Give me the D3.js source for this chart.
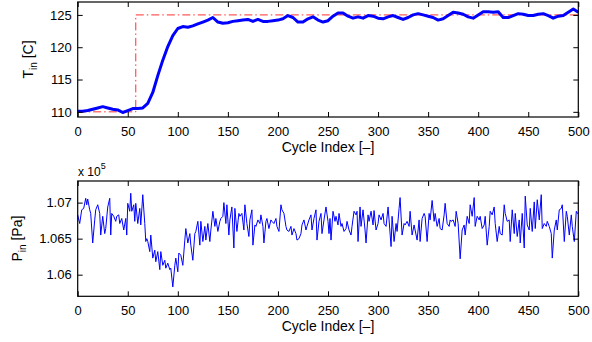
<!DOCTYPE html>
<html>
<head>
<meta charset="utf-8">
<script src="https://cdn.jsdelivr.net/npm/d3@7/dist/d3.min.js"></script>
<style>
  body { margin: 0; background: #fff; }
  text { font-family: "Liberation Sans", Arial, Helvetica, sans-serif; fill: #000; }
</style>
</head>
<body>
<div id="chart"></div>
<script>
// inlet temperature, read every 5 cycles
var tCycle = d3.range(0, 501, 5);
var tVal = [
  110.1, 110.1, 110.2, 110.4, 110.6, 110.8, 110.6, 110.4, 110.3, 109.9,
  110.2, 110.5, 110.5, 110.6, 111.3, 113.0, 115.6, 118.0, 120.1, 121.8,
  122.9, 123.2, 123.1, 123.3, 123.6, 123.9, 124.2, 124.6, 123.9, 123.7,
  123.8, 124.0, 124.1, 124.2, 124.3, 124.0, 124.3, 124.0, 124.0, 124.1,
  124.2, 124.4, 124.9, 124.6, 123.9, 123.9, 124.4, 124.7, 124.2, 123.9,
  124.1, 124.8, 125.3, 125.3, 124.8, 124.5, 124.7, 124.5, 124.9, 124.8,
  124.5, 124.4, 124.7, 124.9, 124.6, 124.3, 124.6, 125.0, 125.2, 125.0,
  124.8, 124.6, 124.2, 124.4, 124.9, 125.4, 125.3, 125.1, 124.7, 124.5,
  125.0, 125.5, 125.5, 125.4, 125.5, 124.6, 124.6, 124.9, 125.2, 125.1,
  124.9, 124.9, 125.1, 125.2, 124.9, 124.5, 124.8, 124.9, 125.4, 125.9,
  125.4
];

// set point (step)
var spCycle = [0, 58, 58, 500];
var spVal = [110, 110, 125, 125];

// inlet pressure [Pa]
var pCycle = [
  0, 2, 4, 6, 8, 9, 10, 12, 13, 15, 17, 18, 20, 22, 23, 25, 27, 28, 30, 32,
  33, 34, 36, 38, 39, 41, 42, 44, 46, 48, 49, 50, 52, 53, 54, 56, 57, 58, 60, 62,
  63, 65, 67, 68, 69, 70, 72, 73, 75, 77, 78, 80, 82, 83, 85, 87, 88, 90, 92, 93,
  95, 97, 98, 100, 101, 103, 105, 107, 108, 110, 112, 113, 115, 117, 118, 120, 122,
  123, 125, 127, 128, 130, 132, 133, 135, 137, 138, 140, 142, 143, 145, 146, 148, 149,
  151, 152, 154, 156, 157, 159, 161, 162, 164, 166, 167, 169, 171, 172, 174, 175, 177,
  178, 180, 182, 183, 185, 186, 188, 189, 191, 193, 194, 196, 198, 199, 201, 203, 204,
  206, 208, 209, 211, 213, 214, 216, 218, 219, 221, 223, 224, 226, 228, 229, 231, 233,
  234, 236, 238, 239, 241, 243, 244, 246,
  248, 250, 251, 252, 253, 255, 257, 258, 260, 261, 263, 264, 266, 268, 269, 271, 273,
  274, 276, 278, 279, 280, 282, 283, 285, 287, 288, 290, 291, 293, 295, 296, 298, 300,
  301, 303, 305, 306, 308, 310, 311, 313, 314, 316, 318, 319, 321, 322, 324, 326, 327,
  329, 331, 332, 334, 336, 337, 339, 341, 342, 344, 346, 347, 349, 351, 352, 354, 356,
  357, 359, 361, 362, 364, 366, 367, 369, 371, 372,
  373, 375, 377, 378, 380, 382, 384, 386, 387, 389, 391, 392, 394, 396, 397, 399, 401,
  402, 404, 406, 407, 409, 411, 412, 414, 416, 417, 419, 421, 422, 424, 426, 427, 429,
  431, 432, 434, 436, 437, 439, 441, 442, 444, 446, 447, 449, 451, 452, 454, 456, 457,
  459, 461, 463, 464, 466, 468, 469, 471, 473, 474, 476, 478, 479, 481, 483, 484, 486,
  488, 489, 491, 493, 494, 496, 498, 499, 500
];
var pVal = [
  106830, 106710, 106900, 106920, 107060, 106970, 107050, 106900, 106850, 106440,
  106760, 106900, 106970, 106850, 106550, 106810, 106570, 106640, 106940, 107060,
  106550, 106850, 106810, 106740, 106810, 106830, 106710, 106780, 106620, 106780,
  106550, 106990, 106880, 107130, 106880, 106970, 106740, 106990, 106710, 106920,
  106690, 107110, 106710, 106460, 106500, 106460, 106320, 106550, 106230, 106340,
  106180, 106320, 106070, 106320, 106130, 106200, 106090, 106160, 106070, 106090,
  105830, 106130, 106230, 106040, 106300, 106270, 106130, 106480, 106640, 106440,
  106570, 106410, 106200, 106570, 106600, 106740, 106410,
  106740, 106460, 106670, 106480, 106710, 106460, 106620, 106880, 106670, 106780,
  106600, 106740, 106780, 106810, 107000, 106710, 106970, 106550, 106760, 106940,
  106370, 106920, 106600, 106850, 106810, 106850, 106620, 106970, 106710, 106530,
  106760, 106900, 106410, 106690, 106670, 106760, 106710, 106830, 106670, 106440,
  106740, 106780, 106640, 106760, 106740, 106710, 106780, 106670, 106600, 106970,
  106900, 106850, 106670, 106620, 106600, 106670, 106550, 106640, 106570, 106480,
  106500, 106570, 106690, 106760, 106620, 106670, 106760, 106830, 106620, 106780,
  106900, 106480, 106740, 106850, 106570, 106760,
  106940, 106740, 106570, 106780, 106480, 106880, 106740, 106810, 106690, 106850,
  106670, 106710, 106600, 106640, 106740, 106620, 106550, 106670, 106880, 106830,
  106880, 106460, 106940, 106670, 106900, 106620, 106440, 106830, 106740, 106880,
  106690, 106890, 106620, 106710, 106830, 106760, 106850, 106710, 106670, 106940,
  106760, 106390, 106810, 106460, 106710, 106600, 106920, 107070, 106550, 106710,
  106690, 106740, 106670, 106880, 106550, 106690, 106620, 106480, 106760, 106460,
  106780, 106850, 106810, 106460, 106850, 106760, 107030, 106740, 106850, 106670,
  106780, 106640, 106620, 106830, 106990, 106710, 106670, 106760,
  106740, 106760, 106670, 106880, 106710, 106220, 106620, 106690, 106550, 106810,
  106710, 106970, 106810, 107070, 106670, 106810, 106760, 106810, 106640, 106690,
  106810, 106410, 106670, 106880, 106830, 106940, 106710, 106460, 106670, 106570,
  106550, 106970, 106850, 106740, 106760, 106460, 106900, 106570, 106850, 106530,
  106760, 106440, 106850, 106370, 107090, 106690, 106620, 106920, 106600, 107010,
  106640, 107040, 106760, 107110, 106640, 106710, 106670, 106740, 106670, 106570,
  106230, 106620, 106760, 106620, 106900, 106920, 106970, 106460, 106880, 106810,
  106550, 106830, 106670, 106460, 106880, 106850, 106860
];

var xTicks = d3.range(0, 501, 50);
var tTicks = [110, 115, 120, 125];
var pTicks = [106000, 106500, 107000];
var pTickLabels = ['1.06', '1.065', '1.07'];

var W = 592, H = 342;
var left = 77.7, right = 578.3;

var svg = d3.select('#chart').append('svg')
  .attr('width', W)
  .attr('height', H);

var x = d3.scaleLinear().domain([0, 500]).range([left, right]);

function frame(g, y, top, bottom, yTicks, yFmt) {
  g.append('g')
    .attr('transform', `translate(0,${bottom})`)
    .call(d3.axisBottom(x).tickValues(xTicks).tickSize(-5).tickSizeOuter(0).tickPadding(9.5))
    .call(a => a.select('.domain').remove())
    .call(a => a.selectAll('text').attr('font-size', 13).style('font-family', null));
  g.append('g')
    .attr('transform', `translate(0,${top})`)
    .call(d3.axisTop(x).tickValues(xTicks).tickSize(-5).tickSizeOuter(0).tickFormat(''))
    .call(a => a.select('.domain').remove());
  g.append('g')
    .attr('transform', `translate(${left},0)`)
    .call(d3.axisLeft(y).tickValues(yTicks).tickSize(-5).tickSizeOuter(0).tickPadding(6).tickFormat(yFmt))
    .call(a => a.select('.domain').remove())
    .call(a => a.selectAll('text').attr('font-size', 13).style('font-family', null));
  g.append('g')
    .attr('transform', `translate(${right},0)`)
    .call(d3.axisRight(y).tickValues(yTicks).tickSize(-5).tickSizeOuter(0).tickFormat(''))
    .call(a => a.select('.domain').remove());
  g.selectAll('.tick line').attr('stroke', '#000');
  g.append('rect')
    .attr('x', left).attr('y', top)
    .attr('width', right - left).attr('height', bottom - top)
    .attr('fill', 'none').attr('stroke', '#000').attr('stroke-width', 1.2);
  g.append('text')
    .attr('x', (left + right) / 2).attr('y', bottom + 34.5)
    .attr('text-anchor', 'middle').attr('font-size', 14)
    .text('Cycle Index [\u2013]');
}

// ---- top: T_in ----
var t0 = 2, t1 = 117;
var yT = d3.scaleLinear().domain([109.2, 127.0]).range([t1, t0]);
var gT = svg.append('g');

gT.append('path')
  .datum(spCycle.map((c, i) => [c, spVal[i]]))
  .attr('d', d3.line().x(d => x(d[0])).y(d => yT(d[1])))
  .attr('fill', 'none').attr('stroke', '#ff3030').attr('stroke-width', 1)
  .attr('stroke-dasharray', '8,3,1.5,3');

gT.append('path')
  .datum(tCycle.map((c, i) => [c, tVal[i]]))
  .attr('d', d3.line().x(d => x(d[0])).y(d => yT(d[1])))
  .attr('fill', 'none').attr('stroke', '#0000ff').attr('stroke-width', 3)
  .attr('stroke-linejoin', 'round');

frame(gT, yT, t0, t1, tTicks, d3.format('d'));

var tl = gT.append('text')
  .attr('transform', `translate(33.3,${(t0 + t1) / 2}) rotate(-90)`)
  .attr('text-anchor', 'middle').attr('font-size', 14);
tl.append('tspan').text('T');
tl.append('tspan').attr('font-size', 10).attr('dy', 4).text('in');
tl.append('tspan').attr('dy', -4).text(' [C]');

// ---- bottom: P_in ----
var b0 = 181, b1 = 296.3;
var yP = d3.scaleLinear().domain([105700, 107300]).range([b1, b0]);
var gP = svg.append('g');

gP.append('path')
  .datum(pCycle.map((c, i) => [c, pVal[i]]))
  .attr('d', d3.line().x(d => x(d[0])).y(d => yP(d[1])))
  .attr('fill', 'none').attr('stroke', '#0000ff').attr('stroke-width', 1);

frame(gP, yP, b0, b1, pTicks, (d, i) => pTickLabels[i]);

var pl = gP.append('text')
  .attr('transform', `translate(21.7,${(b0 + b1) / 2}) rotate(-90)`)
  .attr('text-anchor', 'middle').attr('font-size', 14);
pl.append('tspan').text('P');
pl.append('tspan').attr('font-size', 10).attr('dy', 4).text('in');
pl.append('tspan').attr('dy', -4).text(' [Pa]');

var ex = gP.append('text')
  .attr('x', 78).attr('y', 175.5).attr('font-size', 12);
ex.append('tspan').text('x 10');
ex.append('tspan').attr('font-size', 9).attr('dy', -7).text('5');
</script>
</body>
</html>
